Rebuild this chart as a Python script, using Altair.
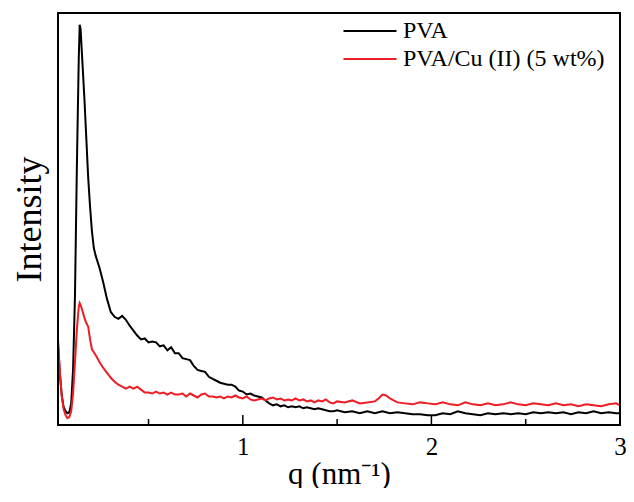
import altair as alt
import pandas as pd

# ---- data (q in nm^-1, intensity in arbitrary units) ----
q_pva = [0.02, 0.03, 0.04, 0.05, 0.06, 0.07, 0.08, 0.09, 0.10, 0.11, 0.12, 0.13, 0.135, 0.14,
         0.15, 0.16, 0.17, 0.18, 0.19, 0.20, 0.21, 0.22, 0.24, 0.26, 0.28, 0.30, 0.32, 0.34,
         0.36, 0.38, 0.40, 0.42, 0.44, 0.46, 0.48, 0.50, 0.52, 0.54, 0.56, 0.58, 0.60, 0.62,
         0.64, 0.66, 0.68, 0.70, 0.72, 0.74, 0.76, 0.78, 0.80, 0.82, 0.84, 0.86, 0.88, 0.90,
         0.92, 0.94, 0.96, 0.98, 1.00, 1.02, 1.04, 1.06, 1.08, 1.10, 1.12, 1.14, 1.16, 1.18,
         1.20, 1.22, 1.24, 1.26, 1.28, 1.30, 1.32, 1.34, 1.36, 1.38, 1.40, 1.42, 1.44, 1.46,
         1.48, 1.50, 1.54, 1.58, 1.62, 1.66, 1.70, 1.74, 1.78, 1.82, 1.86, 1.90, 1.94, 1.98,
         2.02, 2.06, 2.10, 2.14, 2.18, 2.22, 2.26, 2.30, 2.34, 2.38, 2.42, 2.46, 2.50, 2.54,
         2.58, 2.62, 2.66, 2.70, 2.74, 2.78, 2.82, 2.86, 2.90, 2.94, 2.98, 3.00]
i_pva = [82, 52, 30, 18, 14, 12, 13, 22, 57, 132, 262, 372, 407, 402,
         367, 332, 292, 252, 222, 197, 180, 172, 160, 145, 128, 115, 110, 108,
         111, 107, 101, 96, 91, 87, 88, 84, 85, 84, 80, 81, 76, 79,
         73, 73, 68, 67, 66, 60, 56, 55, 54, 49, 47, 45, 43, 42,
         41, 41, 39, 35, 34, 31, 32, 30, 29, 28, 25, 22, 20, 21,
         19, 20, 18, 19, 18, 19, 17, 18, 17, 16, 17, 16, 15, 14,
         14, 15, 13, 14, 12, 14, 12, 14, 12, 13, 12, 11, 11, 10,
         10, 12, 11, 14, 12, 11, 10, 12, 11, 12, 11, 12, 11, 13,
         12, 13, 12, 13, 11, 13, 12, 14, 12, 13, 12, 12]

q_cu = [0.02, 0.03, 0.04, 0.05, 0.06, 0.07, 0.08, 0.09, 0.10, 0.11, 0.12, 0.13, 0.135, 0.14,
        0.15, 0.16, 0.17, 0.18, 0.19, 0.20, 0.21, 0.22, 0.24, 0.26, 0.28, 0.30, 0.32, 0.34,
        0.36, 0.38, 0.40, 0.42, 0.44, 0.46, 0.48, 0.50, 0.52, 0.54, 0.56, 0.58, 0.60, 0.62,
        0.64, 0.66, 0.68, 0.70, 0.72, 0.74, 0.76, 0.78, 0.80, 0.82, 0.84, 0.86, 0.88, 0.90,
        0.92, 0.94, 0.96, 0.98, 1.00, 1.02, 1.04, 1.06, 1.08, 1.10, 1.12, 1.14, 1.16, 1.18,
        1.20, 1.22, 1.24, 1.26, 1.28, 1.30, 1.32, 1.34, 1.36, 1.38, 1.40, 1.42, 1.44, 1.46,
        1.48, 1.50, 1.54, 1.58, 1.62, 1.66, 1.70, 1.72, 1.74, 1.76, 1.78, 1.82, 1.86, 1.90,
        1.94, 1.98, 2.02, 2.06, 2.10, 2.14, 2.18, 2.22, 2.26, 2.30, 2.34, 2.38, 2.42, 2.46,
        2.50, 2.54, 2.58, 2.62, 2.66, 2.70, 2.74, 2.78, 2.82, 2.86, 2.90, 2.94, 2.98, 3.00]
i_cu = [87, 54, 29, 16, 10, 7, 8, 14, 32, 64, 97, 120, 124, 122,
        116, 109, 104, 100, 87, 77, 74, 71, 64, 58, 53, 48, 44, 41,
        39, 37, 39, 37, 39, 36, 33, 33, 32, 34, 32, 33, 31, 33,
        31, 31, 32, 29, 32, 30, 28, 31, 32, 29, 29, 28, 29, 27,
        29, 28, 30, 28, 27, 29, 26, 25, 26, 27, 25, 27, 28, 26,
        27, 25, 26, 25, 27, 25, 26, 24, 25, 23, 25, 24, 26, 23,
        22, 24, 23, 25, 22, 23, 24, 27, 31, 30, 27, 23, 22, 21,
        23, 22, 21, 23, 21, 20, 23, 21, 20, 22, 20, 21, 23, 21,
        20, 22, 21, 20, 22, 20, 21, 19, 21, 20, 19, 21, 22, 20]

series_names = ["PVA", "PVA/Cu (II) (5 wt%)"]
series_colors = ["#000000", "#ee1c24"]
major_ticks = [1, 2, 3]
minor_ticks = [0.5, 1.5, 2.5]

rows = []
for q, v in zip(q_pva, i_pva):
    rows.append({"q": q, "I": v, "series": series_names[0], "k": 0})
for q, v in zip(q_cu, i_cu):
    rows.append({"q": q, "I": v, "series": series_names[1], "k": 1})
df = pd.DataFrame(rows)

FONT = "Liberation Serif"
W, H = 562, 412

xscale = alt.Scale(domain=[0.02, 3.0], nice=False, zero=False)
yscale = alt.Scale(domain=[0, 419], nice=False, zero=False)

x_axis = alt.Axis(values=major_ticks, format="d", title="q (nm⁻¹)",
                  ticks=False, tickSize=0, domain=False, grid=False,
                  labelFlush=False, labelFont=FONT, labelFontSize=25,
                  labelColor="#000", labelPadding=9,
                  titleFont=FONT, titleFontSize=31, titleFontWeight="normal",
                  titleColor="#000", titlePadding=0)

lines = alt.Chart(df).mark_line(strokeWidth=2, clip=True).encode(
    x=alt.X("q:Q", scale=xscale, axis=x_axis),
    y=alt.Y("I:Q", scale=yscale,
            axis=alt.Axis(title="Intensity", labels=False, ticks=False, domain=False,
                          grid=False, titleFont=FONT, titleFontSize=36,
                          titleFontWeight="normal", titleColor="#000", titlePadding=10)),
    color=alt.Color("series:N",
                    scale=alt.Scale(domain=series_names, range=series_colors),
                    legend=alt.Legend(title=None, orient="none", legendX=300, legendY=6,
                                      symbolType="M-2.5,0H2.5", symbolSize=450,
                                      symbolStrokeWidth=2, labelFont=FONT,
                                      labelFontSize=24, labelColor="#000",
                                      labelOffset=21, rowPadding=4, padding=0,
                                      labelLimit=400)),
    order=alt.Order("k:Q"),
)

major = alt.Chart(pd.DataFrame({"q": major_ticks[:2]})).mark_rule(
    color="#000", strokeWidth=1.5).encode(
    x=alt.X("q:Q", scale=xscale, axis=x_axis),
    y=alt.value(H), y2=alt.value(H - 10))

minor = alt.Chart(pd.DataFrame({"q": minor_ticks})).mark_rule(
    color="#000", strokeWidth=1.5).encode(
    x=alt.X("q:Q", scale=xscale, axis=x_axis),
    y=alt.value(H), y2=alt.value(H - 6))

# plot frame (a style element: the full plot area box)
frame = alt.Chart(pd.DataFrame({"f": [0]})).mark_rect(
    fill=None, stroke="#000", strokeWidth=2).encode(
    x=alt.value(0), x2=alt.value(W), y=alt.value(0), y2=alt.value(H))

chart = alt.layer(lines, major, minor, frame).properties(
    width=W, height=H,
    autosize=alt.AutoSizeParams(type="none"),
    padding={"left": 50, "top": 5, "right": 6, "bottom": 63},
).configure_view(stroke=None).configure(background="white")

chart.save("out.html", embed_options={"renderer": "svg", "actions": False})
